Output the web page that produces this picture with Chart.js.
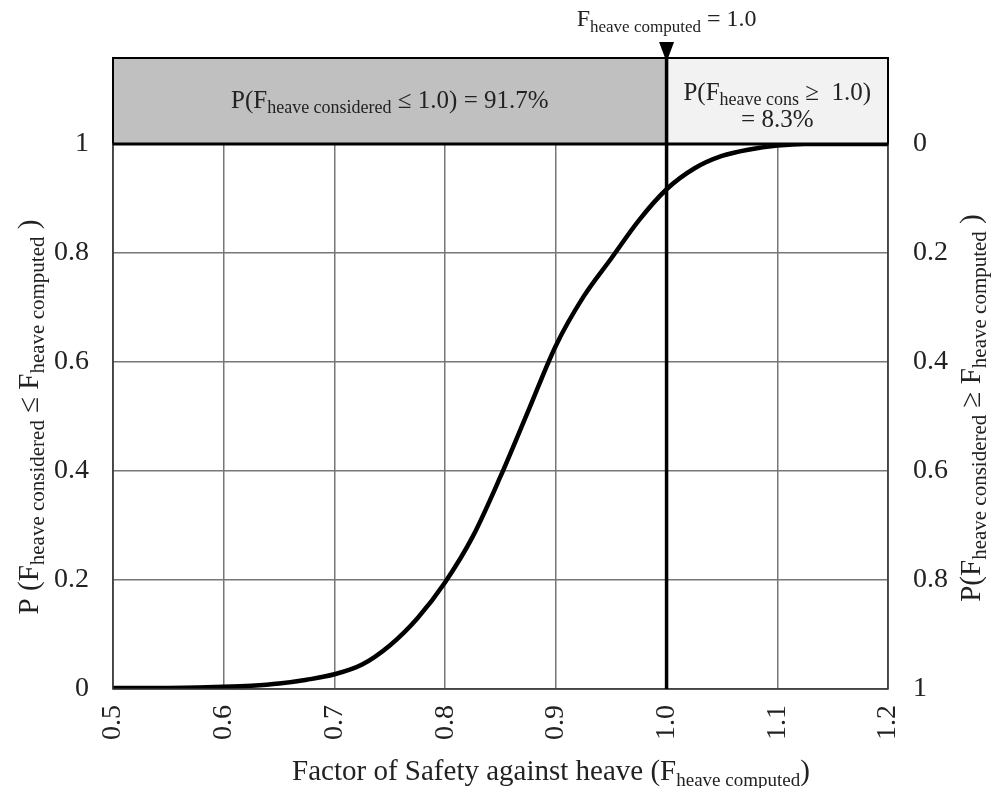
<!DOCTYPE html>
<html>
<head>
<meta charset="utf-8">
<script src="https://cdn.jsdelivr.net/npm/chart.js@4.4.1/dist/chart.umd.min.js"></script>
<style>html,body{margin:0;padding:0;background:#fff}canvas{display:block}</style>
</head>
<body>
<canvas id="fsChart" width="991" height="788"></canvas>
<script>
// factor of safety (x) and cumulative probability (y)
const fsValues   = [0.50, 0.55, 0.60, 0.625, 0.65, 0.675, 0.70, 0.725, 0.75, 0.775, 0.80, 0.825, 0.85, 0.875, 0.90, 0.925, 0.95, 0.975, 1.00, 1.025, 1.05, 1.075, 1.10, 1.125, 1.15, 1.20];
const probValues = [0.002, 0.002, 0.004, 0.006, 0.010, 0.017, 0.027, 0.045, 0.080, 0.130, 0.196, 0.280, 0.390, 0.510, 0.630, 0.720, 0.790, 0.860, 0.917, 0.955, 0.978, 0.990, 0.997, 1.000, 1.000, 1.000];
const markerFs = 1.0;
const probBelow = '91.7%';
const probAbove = '8.3%';

const serif = '"Liberation Serif", "Times New Roman", serif';

// draw text made of normal + subscript pieces, centered on (cx, cy)
function richText(ctx, parts, cx, cy, size, subSize, angle) {
    let total = 0;
    parts.forEach(p => {
        ctx.font = (p.sub ? subSize : size) + 'px ' + serif;
        p.w = ctx.measureText(p.t).width;
        total += p.w;
    });
    ctx.save();
    ctx.translate(cx, cy);
    ctx.rotate(angle || 0);
    ctx.fillStyle = '#222';
    ctx.textBaseline = 'middle';
    ctx.textAlign = 'left';
    let x = -total / 2;
    parts.forEach(p => {
        ctx.font = (p.sub ? subSize : size) + 'px ' + serif;
        ctx.fillText(p.t, x, p.sub ? size * 0.3 : 0);
        x += p.w;
    });
    ctx.restore();
}

const overlay = {
    id: 'overlay',
    afterDatasetsDraw(chart) {
        const ctx = chart.ctx;
        const a = chart.chartArea;
        const xs = chart.scales.x;
        const xm = xs.getPixelForValue(markerFs);
        const bandTop = 58;

        // probability band above the plot
        ctx.save();
        ctx.fillStyle = '#c0c0c0';
        ctx.fillRect(a.left, bandTop, xm - a.left, a.top - bandTop);
        ctx.fillStyle = '#f2f2f2';
        ctx.fillRect(xm, bandTop, a.right - xm, a.top - bandTop);
        ctx.strokeStyle = '#000';
        ctx.lineWidth = 2;
        ctx.strokeRect(a.left, bandTop, a.right - a.left, a.top - bandTop);

        // plot frame
        ctx.lineWidth = 1.5;
        ctx.strokeStyle = '#333';
        ctx.strokeRect(a.left, a.top, a.right - a.left, a.bottom - a.top);
        ctx.lineWidth = 3;
        ctx.strokeStyle = '#000';
        ctx.beginPath();
        ctx.moveTo(a.left, a.top);
        ctx.lineTo(a.right, a.top);
        ctx.stroke();

        // marker line at F = 1.0
        ctx.lineWidth = 3.5;
        ctx.beginPath();
        ctx.moveTo(xm, bandTop);
        ctx.lineTo(xm, a.bottom);
        ctx.stroke();

        // triangle
        ctx.fillStyle = '#000';
        ctx.beginPath();
        ctx.moveTo(xm - 7.5, 42);
        ctx.lineTo(xm + 7.5, 42);
        ctx.lineTo(xm, 62);
        ctx.closePath();
        ctx.fill();
        ctx.restore();

        richText(ctx, [{t: 'F'}, {t: 'heave computed', sub: true}, {t: ' = 1.0'}], xm, 20, 24, 17);

        const leftMid = (a.left + xm) / 2;
        richText(ctx, [{t: 'P(F'}, {t: 'heave considered', sub: true}, {t: ' ≤ 1.0) = ' + probBelow}], leftMid, 101, 25, 18);
        const rightMid = (xm + a.right) / 2;
        richText(ctx, [{t: 'P(F'}, {t: 'heave cons', sub: true}, {t: ' ≥  1.0)'}], rightMid, 93, 25, 18);
        richText(ctx, [{t: '= ' + probAbove}], rightMid, 120, 25, 18);

        // axis titles
        richText(ctx, [{t: 'Factor of Safety against heave (F'}, {t: 'heave computed', sub: true}, {t: ')'}], 551, 772, 29, 19);
        richText(ctx, [{t: 'P (F'}, {t: 'heave considered', sub: true}, {t: ' ≤ F'}, {t: 'heave computed', sub: true}, {t: ' )'}], 30, 417, 29, 21, -Math.PI / 2);
        richText(ctx, [{t: 'P(F'}, {t: 'heave considered', sub: true}, {t: ' ≥ F'}, {t: 'heave computed', sub: true}, {t: ' )'}], 972, 408, 29, 21, -Math.PI / 2);
    }
};

const tickFont = { family: serif, size: 28 };
const fmtProb = v => (Math.abs(v - Math.round(v)) < 1e-9 ? String(Math.round(v)) : v.toFixed(1));

new Chart(document.getElementById('fsChart'), {
    type: 'line',
    data: {
        datasets: [{
            data: fsValues.map((x, i) => ({ x: x, y: probValues[i] })),
            borderColor: '#000',
            borderWidth: 4.5,
            pointRadius: 0,
            fill: false,
            cubicInterpolationMode: 'monotone'
        }]
    },
    options: {
        responsive: false,
        animation: false,
        layout: { padding: { top: 144 } },
        plugins: { legend: { display: false }, tooltip: { enabled: false } },
        scales: {
            x: {
                type: 'linear',
                min: 0.5,
                max: 1.2,
                afterFit: s => { s.height = 99; },
                border: { display: false },
                grid: { color: '#777', lineWidth: 1.5, drawTicks: false },
                ticks: {
                    stepSize: 0.1,
                    minRotation: 90,
                    maxRotation: 90,
                    padding: 16,
                    color: '#222',
                    font: tickFont,
                    callback: v => v.toFixed(1)
                }
            },
            y: {
                min: 0,
                max: 1,
                afterFit: s => { s.width = 113; },
                border: { display: false },
                grid: { color: '#777', lineWidth: 1.5, drawTicks: false },
                ticks: { stepSize: 0.2, padding: 24, color: '#222', font: tickFont, callback: fmtProb }
            },
            y2: {
                position: 'right',
                reverse: true,
                min: 0,
                max: 1,
                afterFit: s => { s.width = 103; },
                border: { display: false },
                grid: { display: false, drawTicks: false },
                ticks: { stepSize: 0.2, padding: 25, color: '#222', font: tickFont, callback: fmtProb }
            }
        }
    },
    plugins: [overlay]
});
</script>
</body>
</html>
